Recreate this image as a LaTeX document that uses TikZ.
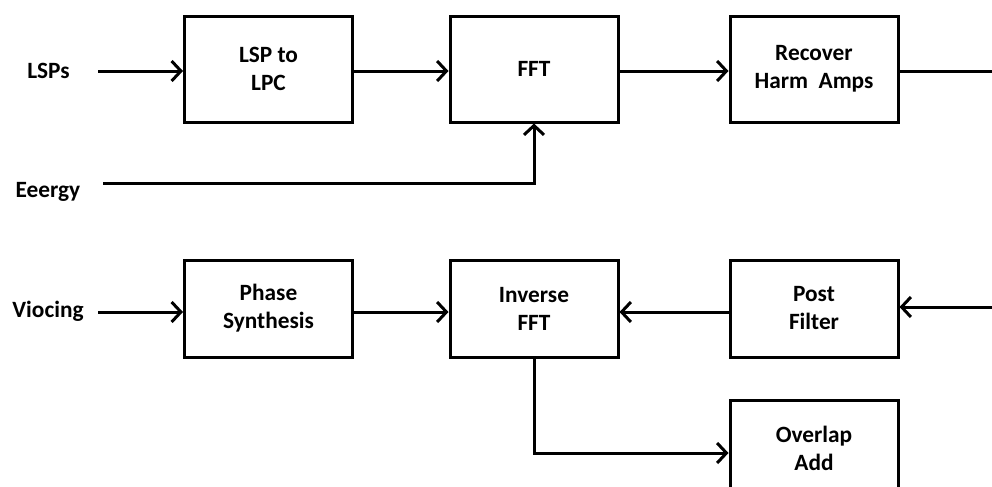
\documentclass[tikz,border=0pt]{standalone}
\usepackage{fontspec}
\setmainfont{Carlito}
\usetikzlibrary{arrows.meta}
\begin{document}
\begin{tikzpicture}[x=0.75pt,y=-0.75pt,
  blk/.style={draw,line width=2.25pt,minimum width=168*0.75pt,align=center,inner sep=0pt,
    font=\bfseries\fontsize{17.5}{21}\selectfont},
  lbl/.style={inner sep=0pt,font=\bfseries\fontsize{17.5}{21}\selectfont},
  arr/.style={line width=2.25pt,-{Straight Barb[length=7pt,width=15pt,line width=2.25pt]}},
  ln/.style={line width=2.25pt}]
\clip (0,0) rectangle (992,486);
\fill[white] (0,0) rectangle (992,486);
% blocks
\node[blk,minimum height=106*0.75pt] (lsp) at (268.5,69) {LSP to\\LPC};
\node[blk,minimum height=106*0.75pt] (fft) at (534,69) {FFT};
\node[blk,minimum height=106*0.75pt] (rec) at (814,69) {Recover\\Harm\ \ Amps};
\node[blk,minimum height=97*0.75pt] (ph) at (268.5,308.5) {Phase\\Synthesis};
\node[blk,minimum height=97*0.75pt] (ifft) at (534,308.5) {Inverse\\FFT};
\node[blk,minimum height=97*0.75pt] (pf) at (814,308.5) {Post\\Filter};
\node[blk,minimum height=97*0.75pt] (ola) at (814,448.5) {Overlap\\Add};
% labels
\node[lbl] (lsps) at (48.5,71) {LSPs};
\node[lbl] (eng) at (48,192) {Eeergy};
\node[lbl] (voc) at (48,311) {Viocing};
% free ends
\coordinate (lspsE) at (98,71);
\coordinate (engE) at (103,183);
\coordinate (vocE) at (98,312);
\coordinate (outR) at (995,71);
\coordinate (inR) at (995,307);
\coordinate (olaIn) at (700,453);
% connectors
\draw[arr] (lspsE) -- (lsp.west |- lspsE);
\draw[arr] (lsp.east |- lspsE) -- (fft.west |- lspsE);
\draw[arr] (fft.east |- lspsE) -- (rec.west |- lspsE);
\draw[ln] (rec.east |- outR) -- (outR);
\draw[arr] (engE) -| (fft.south);
\draw[arr] (vocE) -- (ph.west |- vocE);
\draw[arr] (ph.east |- vocE) -- (ifft.west |- vocE);
\draw[arr] (pf.west |- vocE) -- (ifft.east |- vocE);
\draw[arr] (inR) -- (pf.east |- inR);
\draw[arr] (ifft.south) |- (ola.west |- olaIn);
\end{tikzpicture}
\end{document}
